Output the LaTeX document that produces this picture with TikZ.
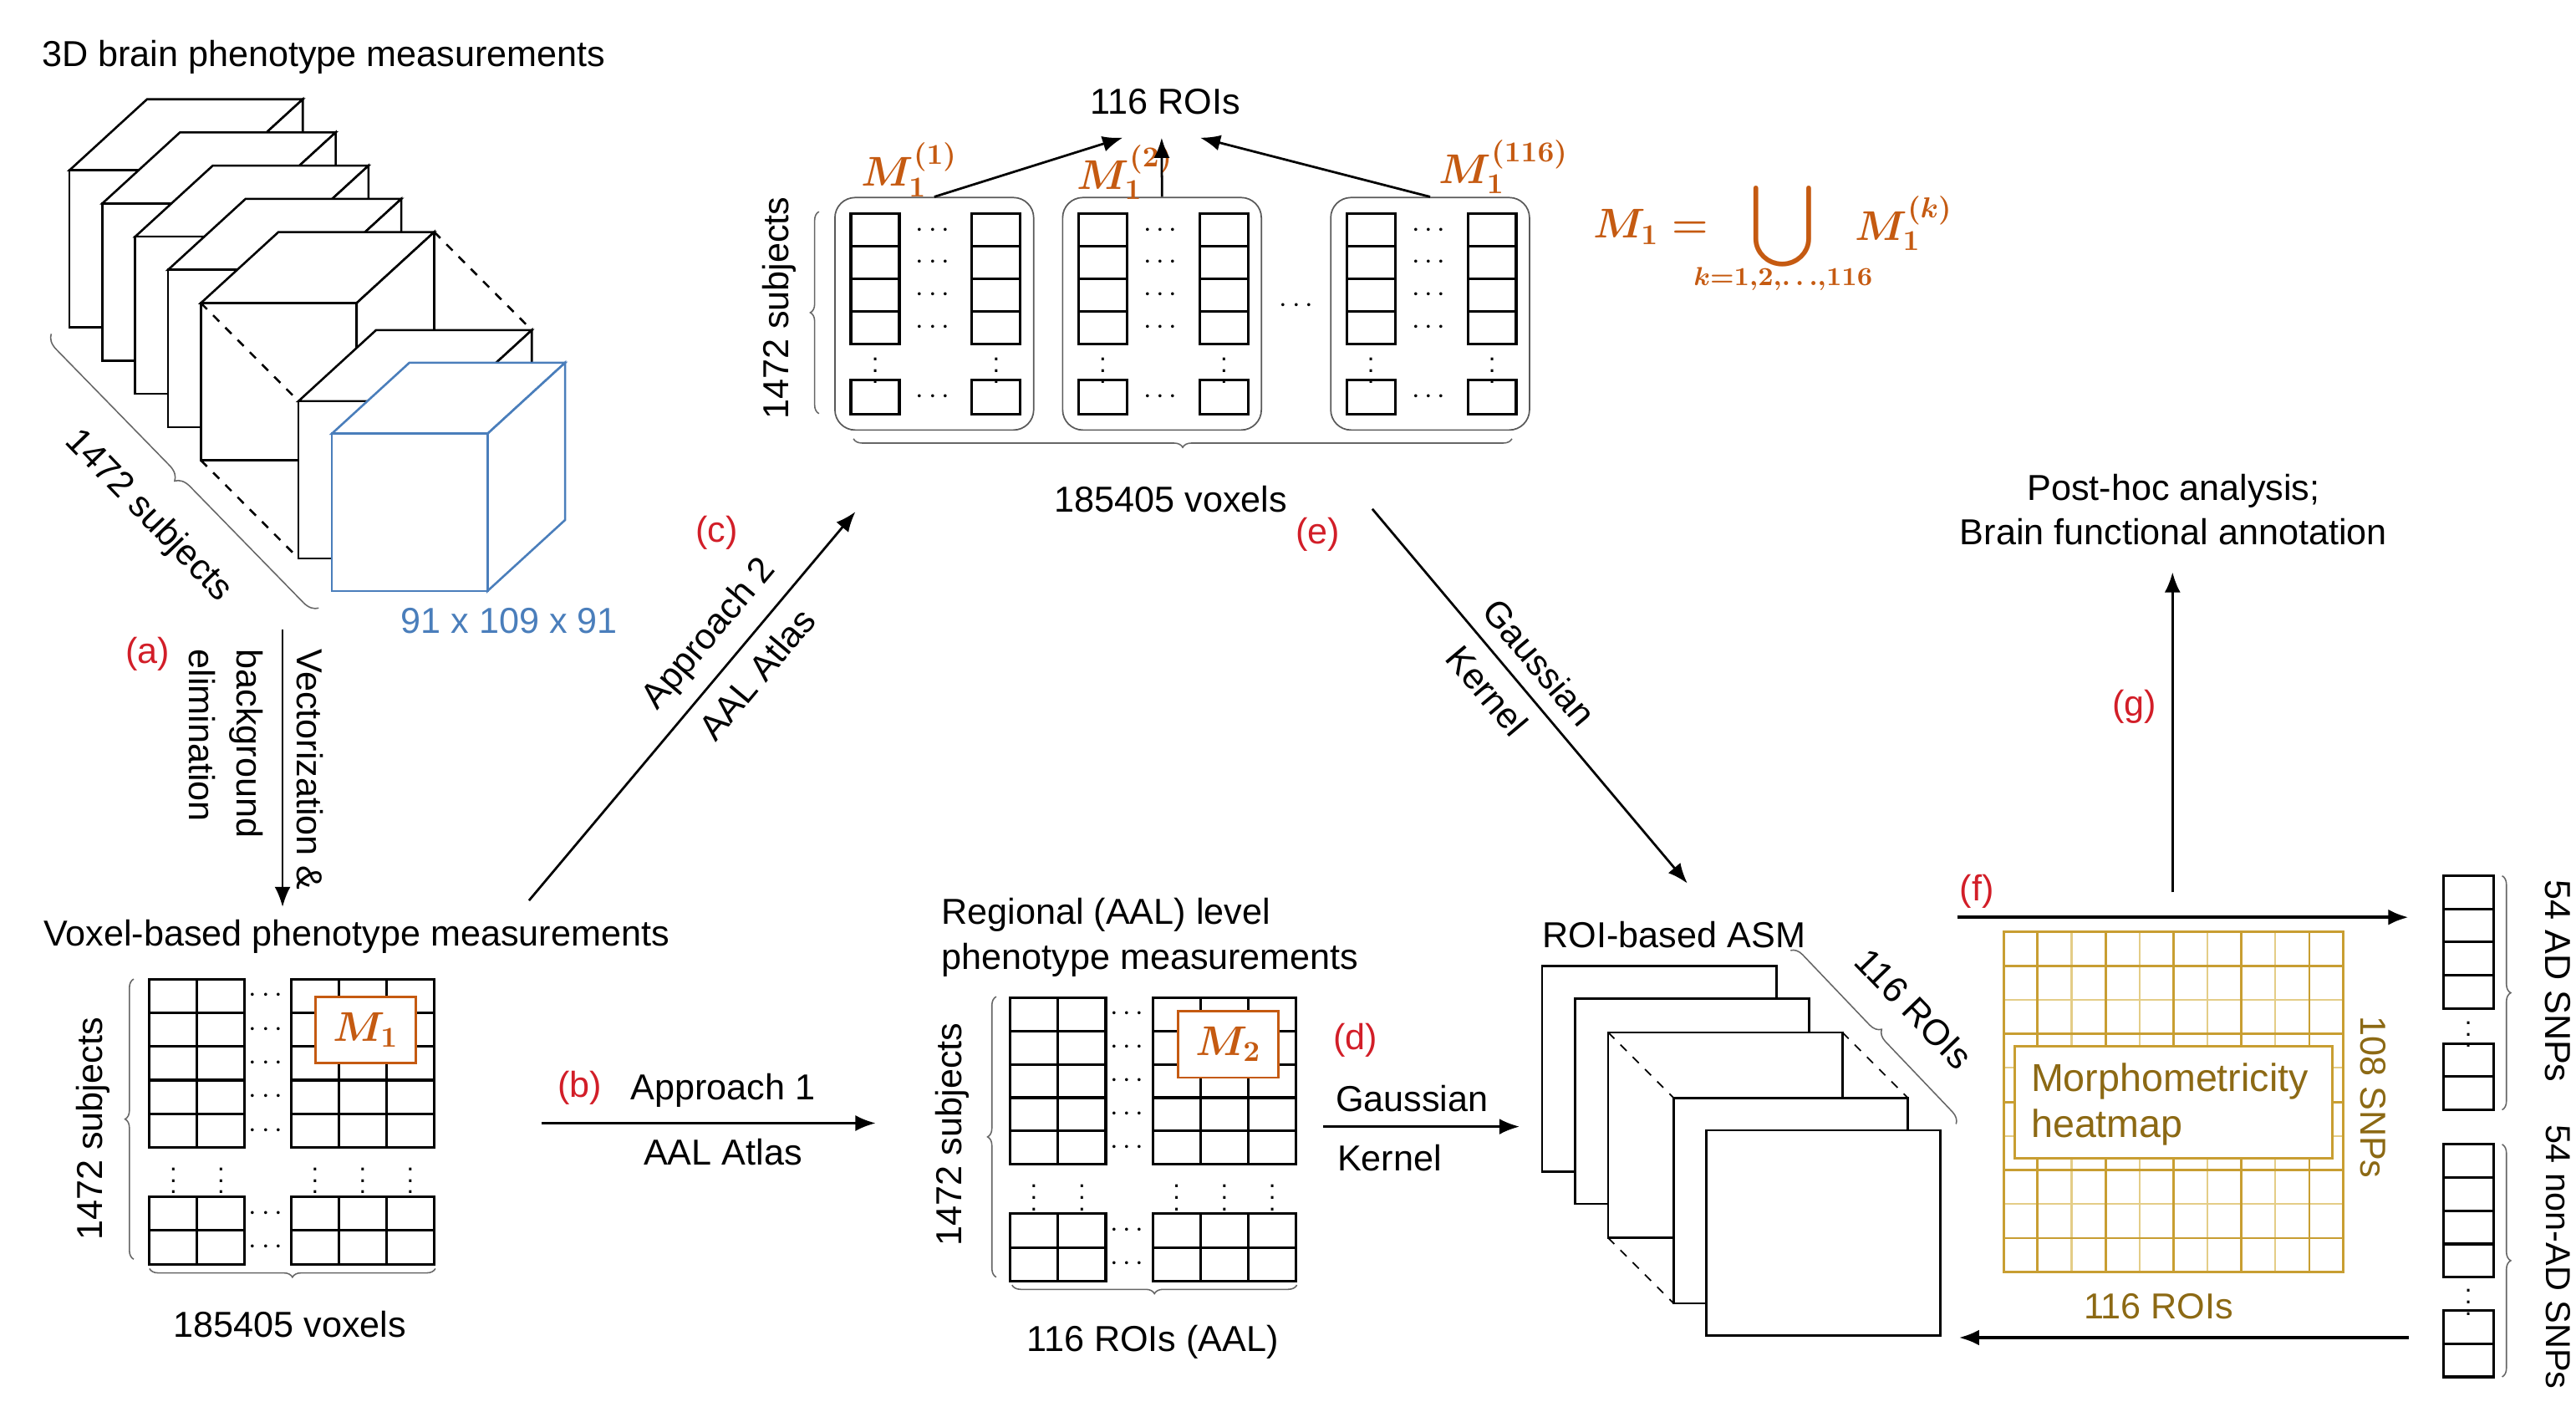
\documentclass[tikz,border=0pt]{standalone}
\usepackage{amsmath}
\usepackage{amssymb}
\usepackage{fontspec}
\setmainfont{Liberation Sans}
\usetikzlibrary{arrows.meta, positioning, calc, decorations.pathreplacing}

\definecolor{tagred}{RGB}{210,30,40}
\definecolor{cubeblue}{RGB}{74,126,187}
\definecolor{morange}{RGB}{197,90,17}
\definecolor{heatgold}{RGB}{200,158,50}
\definecolor{heatlight}{RGB}{228,205,135}
\definecolor{heattext}{RGB}{140,105,20}

\tikzset{
  lbl/.style={font=\fontsize{12.5}{15.5}\selectfont, inner sep=1pt},
  tag/.style={lbl, text=tagred},
  mth/.style={text=morange, inner sep=1pt, font=\fontsize{14}{16}\selectfont},
  arr/.style={-{Latex[length=7pt,width=5.5pt]}, line width=0.8pt},
  cell/.style={line width=0.9pt},
  dots/.style={inner sep=0pt, font=\fontsize{10}{12}\selectfont},
  vdot/.style={inner sep=0pt, font=\fontsize{9}{11}\selectfont},
  brc/.style={decorate, decoration={brace, amplitude=3pt}, draw=black!60, line width=0.45pt},
  grp/.style={draw=black!65, rounded corners=7pt, line width=0.5pt, minimum width=2.42cm, minimum height=2.83cm, inner sep=0pt},
  slab/.style={fill=white, line width=0.75pt},
  mbox/.style={draw=morange, fill=white, line width=0.8pt, minimum width=1.22cm, minimum height=0.81cm, inner sep=0pt, text=morange, font=\fontsize{14}{16}\selectfont},
}

% one box of the 3D stack, front top-left corner at (#2,#3)
\newcommand{\stackbox}[3]{%
  \filldraw[slab, draw=#1] (#2,#3) -- ++(47.2,-43.2) -- ++(94.8,0) -- ++(-47.2,43.2) -- cycle;
  \filldraw[slab, draw=#1] ({#2+94.8},#3) -- ++(47.2,-43.2) -- ++(0,95.7) -- ++(-47.2,43.2) -- cycle;
  \filldraw[slab, draw=#1] (#2,#3) rectangle ++(94.8,95.7);
}

% block of cells: x, y, columns, rows, cell width, cell height
\newcommand{\cellblock}[6]{%
  \foreach \cc in {1,...,#3}
    \foreach \rr in {1,...,#4}
      \draw[cell] ({#1+(\cc-1)*#5},{#2+(\rr-1)*#6}) rectangle ++(#5,#6);
}

\begin{document}
\begin{tikzpicture}[x=0.02cm, y=-0.02cm]
\useasboundingbox (0,0) rectangle (1568,856);

% 3D stack
\node[lbl] (t3d) at (197,35) {3D brain phenotype measurements};
\foreach \i in {0,...,4} {\stackbox{black}{42.3+20*\i}{103.6+20.2*\i}}
\draw[dashed, line width=0.75pt] (264.3,141.2) -- (323.7,200.9)
  (122.3,184.4) -- (181.7,244.1) (122.3,280.1) -- (181.7,339.8);
\stackbox{black}{181.7}{244.1}
\stackbox{cubeblue}{202}{263.9}
\draw[brc, decoration={amplitude=5pt}] (194,370) -- (31,203);
\node[lbl, rotate=-46] (subj3d) at (90,314) {1472 subjects};
\node[lbl, text=cubeblue] (dims) at (310,378) {91 x 109 x 91};

% (a)
\coordinate (aTop) at (172,383);
\coordinate (aBot) at (172,552);
\draw[arr] (aTop) -- (aBot);
\node[tag] (ta) at (90,398) {(a)};
\node[lbl, rotate=-90, anchor=base west] (vec1) at (181,393) {Vectorization \&};
\node[lbl, rotate=-90, anchor=base west] (vec2) at (144,393) {background};
\node[lbl, rotate=-90, anchor=base west] (vec3) at (115,393) {elimination};

% voxel-based matrix
\node[lbl] (vox) at (217,570) {Voxel-based phenotype measurements};
\cellblock{91}{595.8}{2}{5}{29}{20.5}
\cellblock{177.3}{595.8}{3}{5}{29}{20.5}
\cellblock{91}{728.3}{2}{2}{29}{20.5}
\cellblock{177.3}{728.3}{3}{2}{29}{20.5}
\foreach \yy [count=\k] in {606,626.5,647,667.5,688,738.5,759}
  \node[dots] (m1h\k) at (163.2,\yy) {$\cdots$};
\foreach \xx [count=\k] in {105.5,134.5,191.8,220.8,249.8}
  \node[vdot] (m1v\k) at (\xx,713.3) {$\vdots$};
\node[mbox] (m1box) at (222.7,626.75) {$\boldsymbol{M_1}$};
\draw[brc] (81.4,766.3) -- (81.4,595.8);
\node[lbl, rotate=90] (subj1) at (56.5,687) {1472 subjects};
\draw[brc] (265,772) -- (91,772);
\node[lbl] (vox1) at (176.5,806) {185405 voxels};

% (b)
\coordinate (bS) at (329.6,683.5);
\coordinate (bE) at (533,683.5);
\draw[arr] (bS) -- node[lbl, above=4pt, pos=0.543] (app1) {Approach 1}
  node[lbl, below=4pt, pos=0.543] (aal1) {AAL Atlas} (bE);
\node[tag] (tb) at (353,662) {(b)};

% regional matrix
\node[lbl, anchor=west, align=left] (reg) at (571,570.6) {Regional (AAL) level\\phenotype measurements};
\cellblock{614.7}{607.1}{2}{5}{29.2}{20.3}
\cellblock{701.6}{607.1}{3}{5}{29.1}{20.3}
\cellblock{614.7}{738.6}{2}{2}{29.2}{20.5}
\cellblock{701.6}{738.6}{3}{2}{29.1}{20.5}
\foreach \yy [count=\k] in {617.2,637.5,657.8,678.1,698.4,748.8,769.3}
  \node[dots] (m2h\k) at (687.4,\yy) {$\cdots$};
\foreach \xx [count=\k] in {629.3,658.5,716.2,745.3,774.4}
  \node[vdot] (m2v\k) at (\xx,723.6) {$\vdots$};
\node[mbox] (m2box) at (747.7,635.5) {$\boldsymbol{M_2}$};
\draw[brc] (606.4,777.2) -- (606.4,606.5);
\node[lbl, rotate=90] (subj2) at (579.6,690.3) {1472 subjects};
\draw[brc] (789.4,782) -- (616,782);
\node[lbl] (roiaal) at (701.6,816.6) {116 ROIs (AAL)};

% (c)
\coordinate (cS) at (322,548);
\coordinate (cE) at (520.7,311.4);
\draw[arr] (cS) -- node[lbl, sloped, above=4pt, pos=0.63] (app2) {Approach 2}
  node[lbl, sloped, below=4pt, pos=0.63] (aal2) {AAL Atlas} (cE);
\node[tag] (tc) at (436.4,324.4) {(c)};

% ROI groups
\node[lbl] (rois) at (709.4,61.9) {116 ROIs};
\foreach \gx [count=\g] in {508.2,646.8,810} {
  \node[grp] (g\g) at ({\gx+60.5},190.95) {};
  \cellblock{\gx+9.7}{130.2}{1}{4}{29.5}{19.8}
  \cellblock{\gx+83.4}{130.2}{1}{4}{29.5}{19.8}
  \cellblock{\gx+9.7}{231.1}{1}{1}{29.5}{20.9}
  \cellblock{\gx+83.4}{231.1}{1}{1}{29.5}{20.9}
  \foreach \yy [count=\k] in {140.1,159.9,179.7,199.5,241.5}
    \node[dots] (g\g-h\k) at ({\gx+61},\yy) {$\cdots$};
  \node[vdot] (g\g-va) at ({\gx+24.5},220.3) {$\vdots$};
  \node[vdot] (g\g-vb) at ({\gx+98.2},220.3) {$\vdots$};
}
\node[dots] (gmid) at (790.5,185.9) {$\cdots$};
\node[mth] (lab1) at (553.6,103.2) {$\boldsymbol{M_1^{(1)}}$};
\node[mth] (lab2) at (685,104.9) {$\boldsymbol{M_1^{(2)}}$};
\node[mth] (lab3) at (915.4,101.5) {$\boldsymbol{M_1^{(116)}}$};
\coordinate (r1) at (683.4,83.8);
\coordinate (r2) at (707.1,83.8);
\coordinate (r3) at (730.5,83.8);
\draw[arr] (g1.north) -- (r1);
\draw[arr] (g2.north) -- (r2);
\draw[arr] (g3.north) -- (r3);
\draw[brc] (498.5,251.7) -- (498.5,128.8);
\node[lbl, rotate=90] (subj0) at (474.1,187.5) {1472 subjects};
\draw[brc] (920.3,267) -- (519.5,267);
\node[lbl] (vox0) at (712.6,304) {185405 voxels};

% union formula
\node[mth] (fl) at (1005,138) {$\boldsymbol{M_1 =}$};
\node[mth, font=\fontsize{20}{22}\selectfont] (cup) at (1085,137.8) {$\displaystyle\bigcup$};
\node[mth, font=\fontsize{9.5}{11}\selectfont] (cupk) at (1085.3,169.6) {$\boldsymbol{k{=}1{,}2{,}{\ldots}{,}116}$};
\node[mth] (fr) at (1159,136) {$\boldsymbol{M_1^{(k)}}$};

% (e)
\coordinate (eS) at (835.3,309.7);
\coordinate (eE) at (1027.1,537.6);
\draw[arr] (eS) -- node[lbl, sloped, above=4pt, pos=0.46] (gk2a) {Gaussian}
  node[lbl, sloped, below=4pt, pos=0.435] (gk2b) {Kernel} (eE);
\node[tag] (te) at (802.2,325.1) {(e)};

% (d)
\coordinate (dS) at (805.5,685.6);
\coordinate (dE) at (924.9,685.6);
\draw[arr] (dS) -- (dE);
\node[tag] (td) at (825,632.8) {(d)};
\node[lbl, anchor=west] (gk1a) at (811,668.7) {Gaussian};
\node[lbl, anchor=west] (gk1b) at (812,704.7) {Kernel};

% ROI-based ASM
\node[lbl] (asm) at (1019,569) {ROI-based ASM};
\filldraw[slab] (938.7,588) rectangle ++(142.6,125);
\filldraw[slab] (958.6,607.7) rectangle ++(142.6,125);
\filldraw[slab] (978.9,628.3) rectangle ++(142.6,125);
\draw[dashed, line width=0.5pt] (978.9,628.3) -- (1018.7,668.1)
  (1121.5,628.3) -- (1161.3,668.1) (978.9,753.3) -- (1018.7,793.1);
\filldraw[slab] (1018.7,668.1) rectangle ++(142.6,125);
\filldraw[slab] (1038.5,687.8) rectangle ++(142.6,125);
\draw[brc, decoration={amplitude=4pt}] (1089.9,578.4) -- (1190.7,684.1);
\node[lbl, rotate=-46] (roiasm) at (1165,614) {116 ROIs};

% heatmap
\foreach \i in {0,...,10} {
  \draw[heatlight, line width=0.6pt] ({1219.6+20.67*\i},567.1) -- ++(0,207);
  \draw[heatlight, line width=0.6pt] (1219.6,{567.1+20.7*\i}) -- ++(206.7,0);
}
\foreach \i in {1,3,5,7,9} {
  \draw[heatgold, line width=0.8pt] ({1219.6+20.67*\i},567.1) -- ++(0,207);
  \draw[heatgold, line width=0.8pt] (1219.6,{567.1+20.7*\i}) -- ++(206.7,0);
}
\draw[heatgold, line width=1pt] (1219.6,567.1) rectangle (1426.3,774.1);
\node[draw=heatgold, fill=white, line width=0.9pt, minimum width=3.86cm, minimum height=1.364cm, inner sep=0pt] (heat) at (1323,671) {};
\node[anchor=west, align=left, text=heattext, inner sep=0pt, font=\fontsize{13.5}{15.8}\selectfont] (heattxt) at (1236,672) {Morphometricity\\heatmap};
\node[lbl, rotate=-90, text=heattext] (snp108) at (1444.5,667.7) {108 SNPs};
\node[lbl, text=heattext] (roi116) at (1313.9,795) {116 ROIs};

% (f), (g)
\coordinate (fS) at (1191.3,558.2);
\coordinate (fE) at (1466,558.2);
\draw[arr, line width=1.1pt] (fS) -- (fE);
\node[tag] (tf) at (1203.3,542.4) {(f)};
\coordinate (backS) at (1466,814);
\coordinate (backE) at (1192.4,814);
\draw[arr, line width=1.1pt] (backS) -- (backE);
\node[lbl, align=center] (post) at (1323,310) {Post-hoc analysis;\\Brain functional annotation};
\coordinate (gS) at (1322.4,543);
\coordinate (gE) at (1322.4,348.2);
\draw[arr] (gS) -- (gE);
\node[tag] (tg) at (1299.2,430) {(g)};

% SNP columns
\cellblock{1487.3}{532.9}{1}{4}{30.5}{20.2}
\cellblock{1487.3}{635}{1}{2}{30.5}{20.2}
\cellblock{1487.3}{696.4}{1}{4}{30.5}{20.2}
\cellblock{1487.3}{797.5}{1}{2}{30.5}{20.2}
\node[vdot] (snpv1) at (1502.5,624.3) {$\vdots$};
\node[vdot] (snpv2) at (1502.5,787.3) {$\vdots$};
\draw[brc] (1523,533) -- (1523,675.4);
\draw[brc] (1523,696.4) -- (1523,837.9);
\node[lbl, rotate=-90] (ad) at (1557,597) {54 AD SNPs};
\node[lbl, rotate=-90, font=\fontsize{12}{14}\selectfont] (nonad) at (1557,765) {54 non-AD SNPs};
\end{tikzpicture}
\end{document}
